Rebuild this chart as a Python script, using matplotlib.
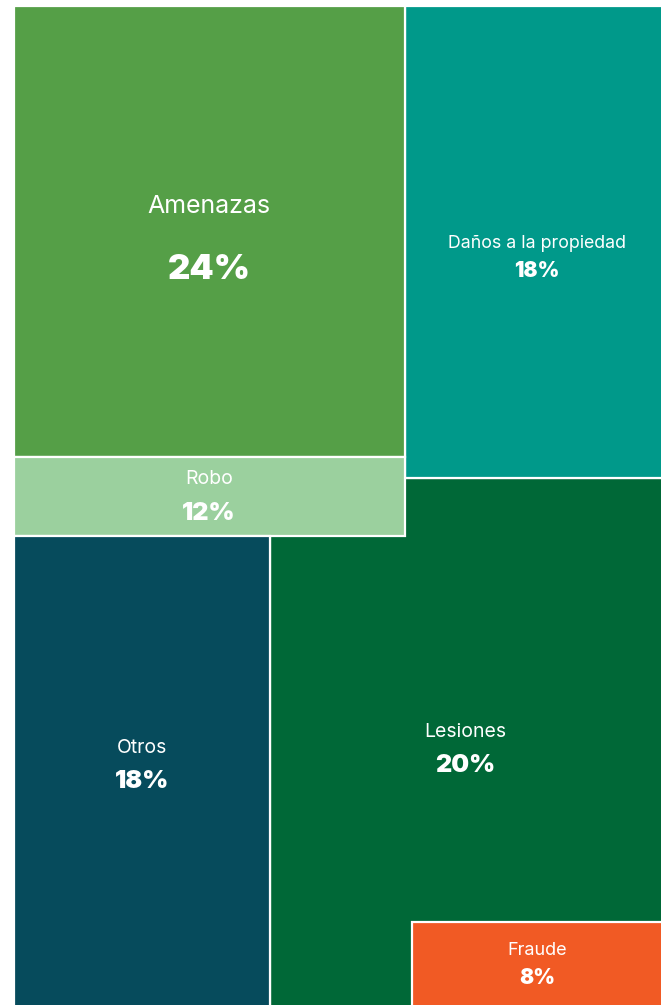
import matplotlib
matplotlib.use("Agg")
import matplotlib.pyplot as plt
from matplotlib.patches import Rectangle

# ---- data ----
categories = ["Lesiones", "Daños a la propiedad", "Amenazas", "Robo", "Otros", "Fraude"]
shares = [20, 18, 24, 12, 18, 8]
colors = ["#006837", "#00998A", "#559F47", "#9BD09E", "#064B5C", "#F15A24"]

# ---- layout (pixel boxes of the reference treemap: x0, y0, x1, y1) and text anchors ----
boxes = [
    (270, 478, 663, 1007),
    (405, 6, 663, 478),
    (14, 6, 405, 457),
    (14, 457, 405, 536),
    (14, 536, 270, 1007),
    (412, 922, 663, 1007),
]
label_pos = [(465, 732), (537, 243), (209, 206), (209, 479), (142, 748), (537, 950)]
pct_pos = [(465, 765), (537, 271), (209, 270), (209, 513), (142, 781), (537, 978)]
label_size = [14, 12.8, 18, 14, 14, 13]
pct_size = [18, 15, 25, 18, 18, 15]

W, H = 661, 1005
fig = plt.figure(figsize=(W / 100, H / 100), dpi=100)
ax = fig.add_axes([0, 0, 1, 1])
ax.set_xlim(0, W)
ax.set_ylim(H, 0)
ax.axis("off")

for cat, val, col, (x0, y0, x1, y1), lp, pp, ls, ps in zip(
        categories, shares, colors, boxes, label_pos, pct_pos, label_size, pct_size):
    ax.add_patch(Rectangle((x0, y0), x1 - x0, y1 - y0, facecolor=col,
                           edgecolor="white", linewidth=1.6))
    ax.text(lp[0], lp[1], cat, color="white", fontsize=ls, family="Inter",
            ha="center", va="center")
    ax.text(pp[0], pp[1], f"{val}%", color="white", fontsize=ps, family="Inter",
            fontweight="black", ha="center", va="center")

fig.savefig("out.png", dpi=100)
